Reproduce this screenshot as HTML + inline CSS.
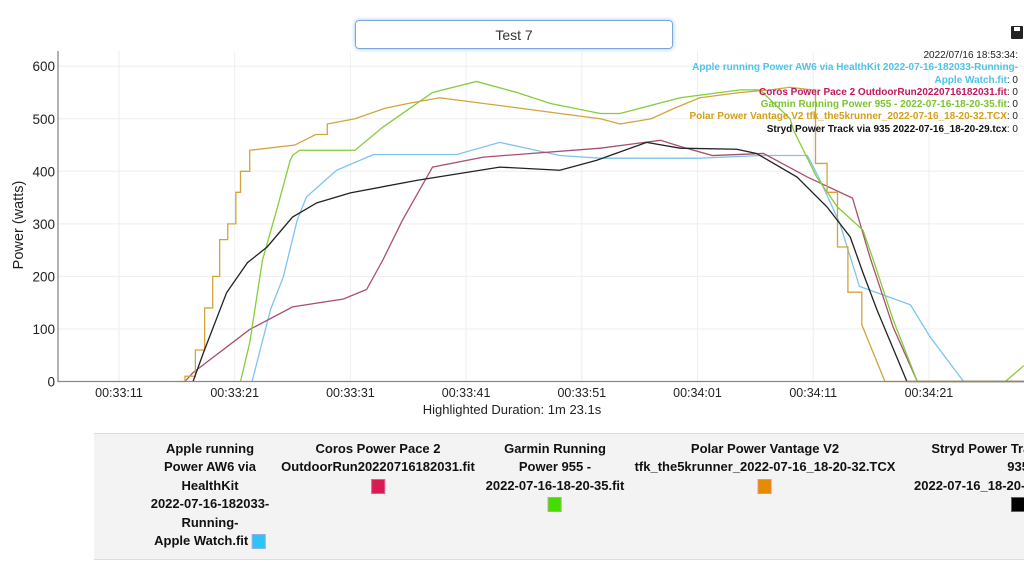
<!DOCTYPE html>
<html><head><meta charset="utf-8">
<style>
body{margin:0;width:1024px;height:562px;overflow:hidden;background:#fff;font-family:"Liberation Sans",Arial,sans-serif;position:relative}
#search{position:absolute;left:355px;top:20px;width:318px;height:29px;border:1px solid #7aa7e0;border-radius:4px;box-shadow:0 0 4px #9cc3f3;box-sizing:border-box;text-align:center;line-height:28px;font-size:14px;color:#333}
#save{position:absolute;left:1011px;top:26px;width:12px;height:13px;background:#222;border-radius:1px}
#save:after{content:"";position:absolute;left:3px;top:1px;width:6px;height:4px;background:#fff}
#tip{position:absolute;right:6px;top:50px;text-align:right;font-size:10px;line-height:12.3px;font-weight:bold;color:#222}
#tip .v{font-weight:normal;color:#222}
#legend{position:absolute;left:94px;top:433px;width:930px;height:125px;background:#f3f3f3;border-top:1px solid #ddd;border-bottom:1px solid #ddd}
.col{position:absolute;top:6px;text-align:center;font-size:13px;font-weight:bold;line-height:18.4px;color:#111;white-space:nowrap}
.sw{display:inline-block;width:12px;height:13px;vertical-align:middle;border:1px solid rgba(255,150,220,.5)}
</style></head><body>
<div id="search">Test 7</div>
<div id="save"></div>
<svg id="chart" width="1024" height="430" style="position:absolute;left:0;top:0"></svg>
<div id="tip">
<div style="font-weight:normal">2022/07/16 18:53:34:</div>
<div style="color:#4fc3e8">Apple running Power AW6 via HealthKit 2022-07-16-182033-Running-</div>
<div><span style="color:#4fc3e8">Apple Watch.fit</span><span class="v">: 0</span></div>
<div><span style="color:#c2185b">Coros Power Pace 2 OutdoorRun20220716182031.fit</span><span class="v">: 0</span></div>
<div><span style="color:#7cc52c">Garmin Running Power 955 - 2022-07-16-18-20-35.fit</span><span class="v">: 0</span></div>
<div><span style="color:#d4a017">Polar Power Vantage V2 tfk_the5krunner_2022-07-16_18-20-32.TCX</span><span class="v">: 0</span></div>
<div><span style="color:#111">Stryd Power Track via 935 2022-07-16_18-20-29.tcx</span><span class="v">: 0</span></div>
</div>
<div id="legend">
<div class="col" style="left:116px;transform:translateX(-50%)">Apple running<br>Power AW6 via<br>HealthKit<br>2022-07-16-182033-<br>Running-<br>Apple Watch.fit <span class="sw" style="background:#29c5f6"></span></div>
<div class="col" style="left:284px;transform:translateX(-50%)">Coros Power Pace 2<br>OutdoorRun20220716182031.fit<br><span class="sw" style="background:#d81b50"></span></div>
<div class="col" style="left:461px;transform:translateX(-50%)">Garmin Running<br>Power 955 -<br>2022-07-16-18-20-35.fit<br><span class="sw" style="background:#44dd00"></span></div>
<div class="col" style="left:671px;transform:translateX(-50%)">Polar Power Vantage V2<br>tfk_the5krunner_2022-07-16_18-20-32.TCX<br><span class="sw" style="background:#e88a00"></span></div>
<div class="col" style="left:820px">Stryd Power Track<br><span style="margin-left:60px">935</span><br>2022-07-16_18-20-29.tcx<br><span class="sw" style="background:#000;margin-left:60px"></span></div>
</div>
<script>
// seconds after 00:33:00
const xTickSeconds=[11,21,31,41,51,61,71,81];
const xTickLabels=["00:33:11","00:33:21","00:33:31","00:33:41","00:33:51","00:34:01","00:34:11","00:34:21"];
const yTicks=[0,100,200,300,400,500,600];
const appleT=[22.5,24.1,25.2,26.4,27.2,29.8,33.0,40.2,43.9,49.1,52.6,61.2,66.4,70.5,71.6,73.3,75.0,79.4,81.1,84.0,90];
const appleV=[0,137,199,307,351,402,432,432,455,430,425,425,430,430,383,301,181,146,85,0,0];
const corosT=[16.7,17.4,22.3,26.0,30.4,32.4,33.8,35.5,38.1,42.5,52.6,57.8,59.7,62.3,66.7,70.5,74.4,75.9,77.9,80.0,90];
const corosV=[0,17,99,142,157,175,231,307,408,427,444,459,446,430,434,389,349,237,104,0,0];
const garminT=[21.5,22.3,23.4,24.7,25.8,26.0,26.6,31.4,33.8,38.1,41.9,45.4,48.3,52.6,54.3,59.5,64.7,66.4,69.0,69.3,71.3,73.1,75.3,76.2,77.9,80.0,87.6,89.2];
const garminV=[0,74,231,332,421,430,440,440,484,550,571,550,529,510,510,540,555,555,500,478,389,332,288,231,118,0,0,30];
const polarT=[16.3,16.7,17.6,18.4,19.1,19.7,20.4,21.1,21.5,22.3,26.2,28.0,29.0,31.4,34.0,36.2,38.7,42.2,45.7,49.1,52.6,54.3,57.0,59.0,61.2,64.7,67.3,69.0,70.9,71.2,72.2,73.1,74.0,75.2,77.2,90];
const polarV=[0,10,60,140,200,270,300,360,400,440,450,470,490,500,520,530,540,530,520,510,500,490,500,520,540,550,555,560,555,415,360,256,170,108,0,0];
const strydT=[17.4,18.3,20.3,22.1,23.8,26.0,28.1,31.0,36.8,43.9,49.1,52.3,56.6,59.5,64.4,66.1,69.6,72.2,74.2,75.3,76.5,79.1,90];
const strydV=[0,55,169,226,256,313,340,359,383,408,402,421,455,444,442,434,389,332,275,207,137,0,0];

const X0=119,PXS=11.57,Y0=381.5,PXV=0.5255,L=58,R=1024,T=51;
const xs=s=>X0+(s-11)*PXS, ys=v=>Y0-v*PXV;
const svg=document.getElementById('chart');const NS='http://www.w3.org/2000/svg';
function mk(tag,a){const e=document.createElementNS(NS,tag);for(const k in a)e.setAttribute(k,a[k]);svg.appendChild(e);return e;}
const defs=mk('defs',{});const cp=document.createElementNS(NS,'clipPath');cp.setAttribute('id','cp');
const cr=document.createElementNS(NS,'rect');cr.setAttribute('x',L);cr.setAttribute('y',T);cr.setAttribute('width',R-L);cr.setAttribute('height',Y0-T+1);cp.appendChild(cr);defs.appendChild(cp);
yTicks.forEach(v=>{
 const g=mk('line',{x1:L,x2:R,y1:ys(v),y2:ys(v),stroke:'#eee'});
 
 
 const t=mk('text',{x:L-3,y:ys(v)+5,'text-anchor':'end','font-size':'13.5',fill:'#222'});t.textContent=v;
 
 
});
xTickSeconds.forEach((s,i)=>{
 const g=mk('line',{x1:xs(s),x2:xs(s),y1:T,y2:Y0,stroke:'#eee'});
 
 
 const t=mk('text',{x:xs(s),y:397,'text-anchor':'middle','font-size':'12.5',fill:'#222'});t.textContent=xTickLabels[i];
 
 
});
function series(T_,V_,color,step,name){
 let d='';
 T_.forEach((t,i)=>{const x=xs(t),y=ys(V_[i]);
  if(i===0)d+='M'+x+','+y;
  else if(step&&(t-T_[i-1])<1.3)d+='H'+x+'V'+y;
  else d+='L'+x+','+y;});
 const p=mk('path',{d:d,fill:'none',stroke:color,'stroke-width':1.3,'clip-path':'url(#cp)'});
 
 
}
series(appleT,appleV,'#7cc4ef',false,'apple-series-line');
series(corosT,corosV,'#a8506a',false,'coros-series-line');
series(garminT,garminV,'#86cc3c',false,'garmin-series-line');
series(polarT,polarV,'#d4a43c',true,'polar-series-line');
series(strydT,strydV,'#222',false,'stryd-series-line');
const ax=mk('path',{d:`M${L},${T}V${Y0}H${R}`,fill:'none',stroke:'#888','stroke-width':1.3});


const yt=mk('text',{x:0,y:0,transform:'translate(23,225) rotate(-90)','text-anchor':'middle','font-size':'14.5',fill:'#222'});yt.textContent='Power (watts)';


const xt=mk('text',{x:512,y:414,'text-anchor':'middle','font-size':'13',fill:'#222'});xt.textContent='Highlighted Duration: 1m 23.1s';


</script>
</body></html>
